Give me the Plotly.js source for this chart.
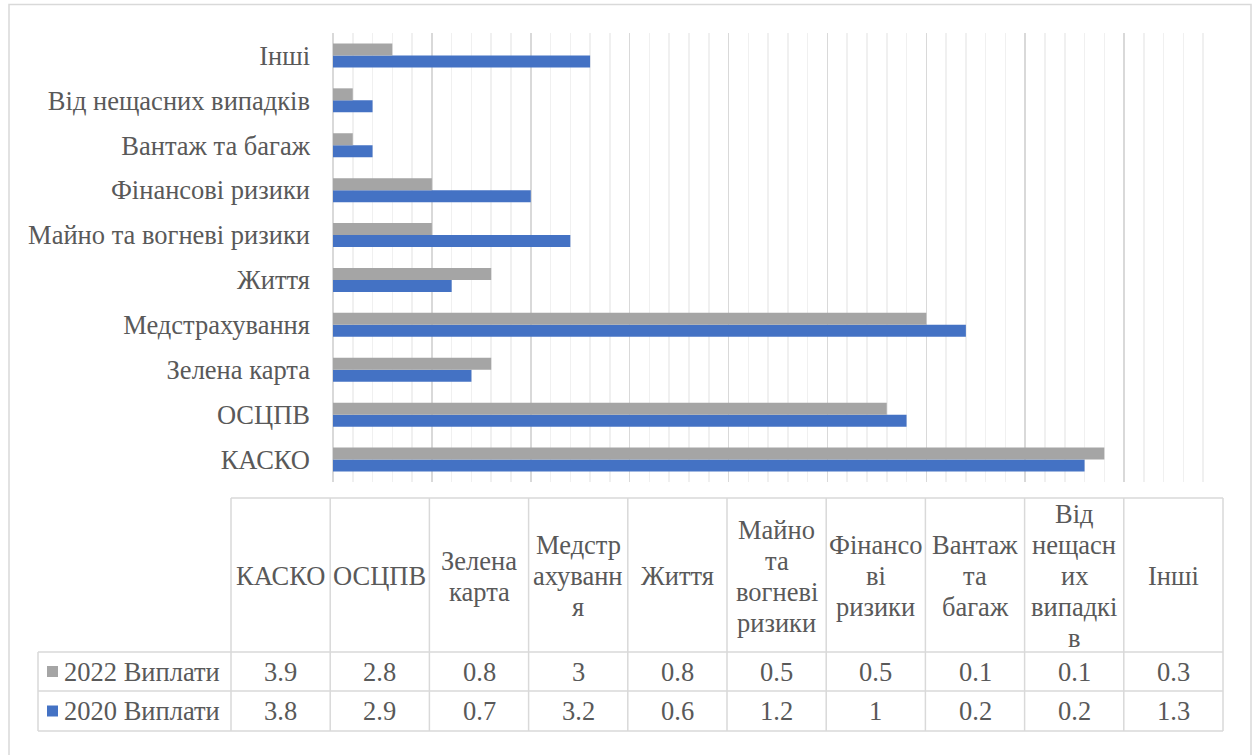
<!DOCTYPE html>
<html>
<head>
<meta charset="utf-8">
<script src="https://cdn.plot.ly/plotly-3.0.1.min.js"></script>
<style>html,body{margin:0;padding:0;background:#fff;}#chart{width:1258px;height:755px;}</style>
</head>
<body>
<div id="chart"></div>
<script>
// ---- data ----
const categories = ["КАСКО", "ОСЦПВ", "Зелена карта", "Медстрахування", "Життя",
  "Майно та вогневі ризики", "Фінансові ризики", "Вантаж та багаж", "Від нещасних випадків", "Інші"];
const headerLabels = ["КАСКО", "ОСЦПВ", "Зелена<br>карта", "Медстр<br>ахуванн<br>я", "Життя",
  "Майно<br>та<br>вогневі<br>ризики", "Фінансо<br>ві<br>ризики", "Вантаж<br>та<br>багаж",
  "Від<br>нещасн<br>их<br>випадкі<br>в", "Інші"];
const series2022Name = "2022 Виплати";
const series2020Name = "2020 Виплати";
const values2022 = [3.9, 2.8, 0.8, 3, 0.8, 0.5, 0.5, 0.1, 0.1, 0.3];
const values2020 = [3.8, 2.9, 0.7, 3.2, 0.6, 1.2, 1, 0.2, 0.2, 1.3];

// ---- layout geometry (pixels) ----
const Wd = 1258, Ht = 755;
const L = 333, R = 1223, T = 33, B = 482;
const PW = R - L, PH = B - T;
const px = v => (v - L) / PW;
const py = v => (B - v) / PH;

const FONT = "Liberation Serif";
const FS = 26.5;
const LINE_H = 31;
const TXT = "#595959";
const GRID = "#d9d9d9";
const GRAY = "#a5a5a5";
const BLUE = "#4472c4";

const traces = [
  {type: "bar", orientation: "h", name: series2020Name, y: categories, x: values2020,
   marker: {color: BLUE}, hoverinfo: "x+y"},
  {type: "bar", orientation: "h", name: series2022Name, y: categories, x: values2022,
   marker: {color: GRAY}, hoverinfo: "x+y"}
];

const shapes = [];
const annotations = [];
const tabLeft = 231, tabRight = 1223, legLeft = 38;
const rowTop = 498, hdrBot = 652, r1Bot = 691, r2Bot = 731, hdrMid = 576;
const nCol = categories.length;
const colW = (tabRight - tabLeft) / nCol;
const line = (x0, y0, x1, y1) => shapes.push({type: "line", xref: "paper", yref: "paper",
  x0: px(x0), y0: py(y0), x1: px(x1), y1: py(y1), line: {color: GRID, width: 1.5}});
const txt = (x, y, t, anchor) => annotations.push({xref: "paper", yref: "paper", x: px(x), y: py(y),
  text: t, showarrow: false, xanchor: anchor || "center", yanchor: "middle",
  font: {family: FONT, size: FS, color: TXT}});

line(tabLeft, rowTop, tabRight, rowTop);
line(legLeft, hdrBot, tabRight, hdrBot);
line(legLeft, r1Bot, tabRight, r1Bot);
line(legLeft, r2Bot, tabRight, r2Bot);
line(legLeft, hdrBot, legLeft, r2Bot);
for (let i = 0; i <= nCol; i++) {
  const x = tabLeft + i * colW;
  line(x, rowTop, x, r2Bot);
}
const rows = [
  {name: series2022Name, vals: values2022, color: GRAY, top: hdrBot, bot: r1Bot},
  {name: series2020Name, vals: values2020, color: BLUE, top: r1Bot, bot: r2Bot}
];
headerLabels.forEach((h, i) => {
  const cx = tabLeft + (i + 0.5) * colW;
  const parts = h.split("<br>");
  parts.forEach((p, k) => txt(cx, hdrMid + (k - (parts.length - 1) / 2) * LINE_H, p));
  rows.forEach(r => txt(cx, (r.top + r.bot) / 2, String(r.vals[i])));
});
rows.forEach(r => {
  const cy = (r.top + r.bot) / 2;
  shapes.push({type: "rect", xref: "paper", yref: "paper", x0: px(47), x1: px(58),
    y0: py(cy - 5.5), y1: py(cy + 5.5), fillcolor: r.color, line: {width: 0}});
  txt(62, cy, r.name, "left");
});
shapes.push({type: "rect", xref: "paper", yref: "paper", x0: px(9), x1: px(1251),
  y0: py(770), y1: py(4.5), line: {color: GRID, width: 1.5}, fillcolor: "rgba(0,0,0,0)", layer: "below"});

const layout = {
  width: Wd, height: Ht,
  margin: {l: L, r: Wd - R, t: T, b: Ht - B, pad: 0},
  paper_bgcolor: "#ffffff", plot_bgcolor: "#ffffff",
  showlegend: false,
  barmode: "group", bargap: 0.465, bargroupgap: 0,
  font: {family: FONT, size: FS, color: TXT},
  xaxis: {range: [0, 4.5], dtick: 0.5, tick0: 0, showticklabels: false, ticks: "",
    showgrid: true, gridcolor: GRID, gridwidth: 1.5, zeroline: true, zerolinecolor: GRID, zerolinewidth: 1.5,
    minor: {dtick: 0.1, showgrid: true, gridcolor: "#f0f0f0", gridwidth: 1.5},
    fixedrange: true},
  yaxis: {type: "category", showgrid: false, zeroline: false, ticks: "", ticklabelstandoff: 22,
    tickfont: {family: FONT, size: FS, color: TXT}, fixedrange: true},
  shapes: shapes,
  annotations: annotations
};

Plotly.newPlot("chart", traces, layout, {displayModeBar: false, staticPlot: true});
</script>
</body>
</html>
